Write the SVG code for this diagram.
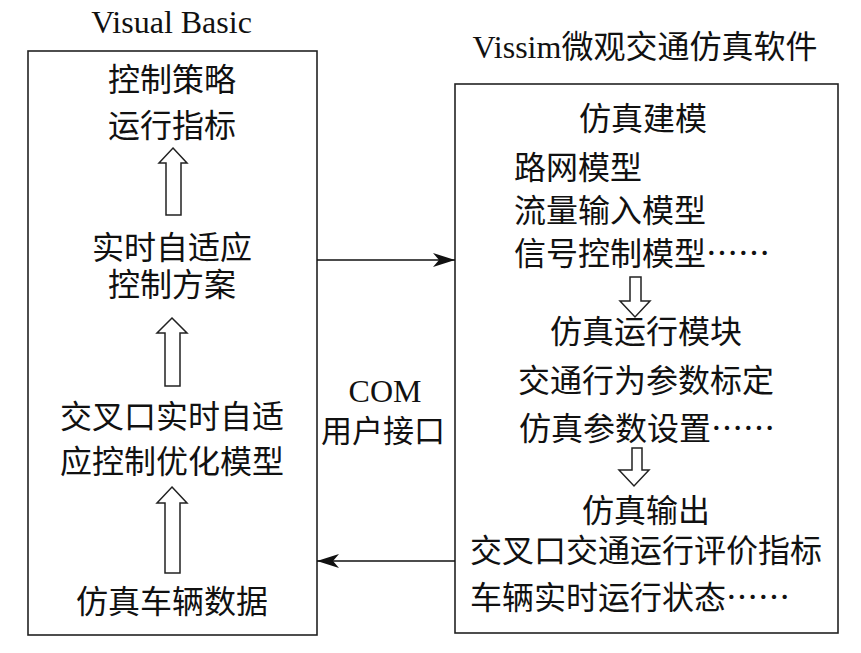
<svg xmlns="http://www.w3.org/2000/svg" width="861" height="653" viewBox="0 0 861 653">
<style>
  .t { font-family: "Liberation Serif", "Noto Sans CJK SC", serif; font-size: 32px; fill: #111; }
  .c { text-anchor: middle; }
  .box { fill: none; stroke: #222; stroke-width: 1.6; }
  .blk { fill: #fff; stroke: #222; stroke-width: 1.5; stroke-linejoin: miter; }
  .ln { stroke: #111; stroke-width: 1.5; fill: none; }
  .el { font-family: "Noto Sans CJK SC", sans-serif; }
</style>
<defs>
  <marker id="ah" viewBox="0 0 22 14" refX="22" refY="7" markerWidth="22" markerHeight="14" markerUnits="userSpaceOnUse" orient="auto">
    <path d="M0,0 L22,7 L0,14 L6,7 Z" fill="#111"/>
  </marker>
</defs>
<rect width="861" height="653" fill="#fff"/>

<g id="vb-title"><text class="t c" x="171.5" y="33">Visual Basic</text></g>
<g id="vissim-title"><text class="t c" x="645" y="58">Vissim微观交通仿真软件</text></g>

<g id="vb-box">
  <rect class="box" x="28" y="51" width="289" height="584"/>
  <text class="t c" x="172" y="91">控制策略</text>
  <text class="t c" x="172" y="137">运行指标</text>
  <polygon class="blk" points="173,148 187,163 181,163 181,215 166,215 166,163 159,163"/>
  <text class="t c" x="172" y="259">实时自适应</text>
  <text class="t c" x="172" y="296">控制方案</text>
  <polygon class="blk" points="172,318 187,333 180,333 180,386 165,386 165,333 157,333"/>
  <text class="t c" x="172" y="428">交叉口实时自适</text>
  <text class="t c" x="172" y="473">应控制优化模型</text>
  <polygon class="blk" points="172,487 187,503 180,503 180,573 165,573 165,503 157,503"/>
  <text class="t c" x="172" y="613">仿真车辆数据</text>
</g>

<g id="vissim-box">
  <rect class="box" x="455" y="84" width="383" height="549"/>
  <text class="t c" x="643" y="130">仿真建模</text>
  <text class="t" x="514" y="179">路网模型</text>
  <text class="t" x="514" y="222">流量输入模型</text>
  <text class="t" x="514" y="265">信号控制模型<tspan class="el">……</tspan></text>
  <polygon class="blk" points="630,277 641,277 641,301 650,301 635,317 620,301 630,301"/>
  <text class="t c" x="646" y="343">仿真运行模块</text>
  <text class="t c" x="646" y="392">交通行为参数标定</text>
  <text class="t" x="519" y="440">仿真参数设置<tspan class="el">……</tspan></text>
  <polygon class="blk" points="632,448 642,448 642,470 649,470 634,486 619,470 632,470"/>
  <text class="t c" x="646" y="522">仿真输出</text>
  <text class="t" x="470" y="562" textLength="352" lengthAdjust="spacing">交叉口交通运行评价指标</text>
  <text class="t" x="470" y="609">车辆实时运行状态<tspan class="el">……</tspan></text>
</g>

<g id="com-label">
  <text class="t c" x="385" y="402">COM</text>
  <text class="t c" x="383" y="442" style="font-size:31px">用户接口</text>
</g>

<g id="connectors">
  <line class="ln" x1="317" y1="260" x2="455" y2="260" marker-end="url(#ah)"/>
  <line class="ln" x1="455" y1="561" x2="317" y2="561" marker-end="url(#ah)"/>
</g>
</svg>
